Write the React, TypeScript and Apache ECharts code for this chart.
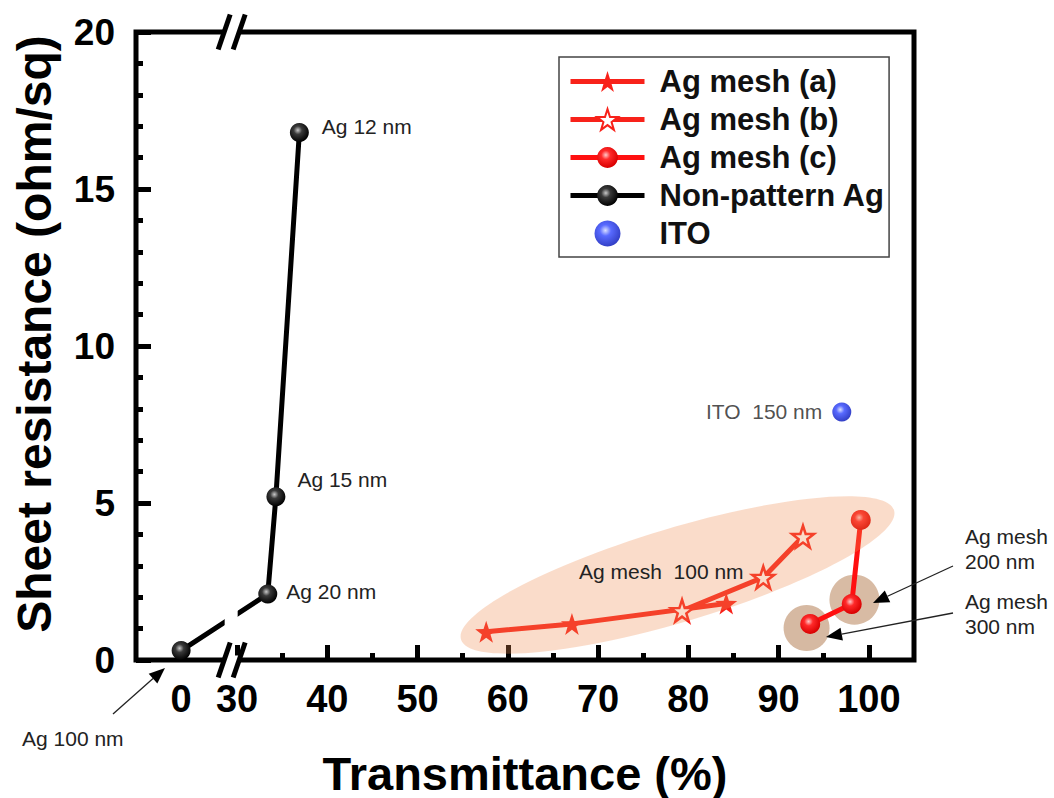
import React, { useEffect, useRef } from "react";
import * as echarts from "echarts";

const FONT = 'Arial, "Liberation Sans", Helvetica, sans-serif';

// Transmittance (%) and sheet resistance (ohm/sq) for each film
const meshA_T = [57.6, 67.1, 84.2];
const meshA_R = [0.9, 1.15, 1.8];
const meshB_T = [79.3, 88.3, 92.7];
const meshB_R = [1.57, 2.63, 3.93];
const meshC_T = [93.5, 98.1, 99.1];
const meshC_R = [1.15, 1.78, 4.46];
const plainAg_T = [0, 33.4, 34.3, 36.9];
const plainAg_R = [0.3, 2.1, 5.2, 16.8];
const plainAg_names = ["Ag 100 nm", "Ag 20 nm", "Ag 15 nm", "Ag 12 nm"];
const ito_T = [97.0];
const ito_R = [7.9];

// Axis ticks
const xLabelValues = [0, 30, 40, 50, 60, 70, 80, 90, 100];
const xMajorTicks = [30, 40, 50, 60, 70, 80, 90, 100];
const xMinorTicks = [35, 45, 55, 65, 75, 85, 95];

// Broken x axis: 0..30 is collapsed, the value 0 sits at ZERO_POS
const X_MIN = 18.8;
const X_MAX = 105;
const ZERO_POS = 23.8;
const BREAK_POS = 29.4;
const toAxis = (v: number) => (v < 30 ? ZERO_POS + v : v);
const pairs = (t: number[], r: number[]) => t.map((v, i) => [toAxis(v), r[i]]);

const RED = "#f8221a";
const STAR =
  "path://M50,0 L61.8,35.3 L98.9,35.7 L69.1,57.9 L80.2,93.3 L50,71.8 L19.8,93.3 L30.9,57.9 L1.1,35.7 L38.2,35.3 Z";

const sphere = (hi: string, mid: string, edge: string) => ({
  type: "radial",
  x: 0.42,
  y: 0.38,
  r: 0.62,
  colorStops: [
    { offset: 0, color: hi },
    { offset: 0.35, color: mid },
    { offset: 1, color: edge },
  ],
});
const blackBall = sphere("#c8c8c8", "#3a3a3a", "#000000");
const redBall = sphere("#ffc8c8", "#ff2a2a", "#d80000");
const blueBall = sphere("#d0d8ff", "#2f45ff", "#0010b8");

const NOTE_SIZE = 21;

const labelOffsets: Record<string, [number, number]> = {
  "Ag 20 nm": [9, -3],
  "Ag 15 nm": [12, -17],
  "Ag 12 nm": [13, -6],
};

export default function App() {
  const ref = useRef<HTMLDivElement>(null);

  useEffect(() => {
    const el = ref.current!;
    const chart = echarts.init(el, null, { renderer: "svg" });

    const plainData = plainAg_T.map((t, i) => {
      const name = plainAg_names[i];
      const off = labelOffsets[name];
      return {
        value: [toAxis(t), plainAg_R[i]],
        name,
        label: off
          ? {
              show: true,
              position: "right",
              distance: off[0],
              offset: [0, off[1]],
              formatter: name,
              fontFamily: FONT,
              fontSize: NOTE_SIZE,
              color: "#222",
            }
          : { show: false },
      };
    });

    const option: any = {
      animation: false,
      backgroundColor: "#ffffff",
      textStyle: { fontFamily: FONT },
      grid: {
        left: 136,
        top: 32,
        right: 140,
        bottom: 138,
        show: true,
        borderColor: "#000",
        borderWidth: 5,
        backgroundColor: "transparent",
      },
      legend: {
        orient: "vertical",
        left: 559,
        top: 57,
        padding: [9, 4, 8, 9],
        borderColor: "#444",
        borderWidth: 1.5,
        itemWidth: 74,
        itemHeight: 26,
        itemGap: 7,
        lineStyle: { width: 5 },
        textStyle: {
          fontFamily: FONT,
          fontWeight: "bold",
          fontSize: 31,
          color: "#111",
          padding: [0, 0, 0, 10],
        },
        data: ["Ag mesh (a)", "Ag mesh (b)", "Ag mesh (c)", "Non-pattern Ag", "ITO"],
      },
      xAxis: [
        {
          type: "value",
          min: X_MIN,
          max: X_MAX,
          position: "bottom",
          axisLine: { show: false },
          splitLine: { show: false },
          axisTick: {
            show: true,
            inside: true,
            length: 15,
            customValues: xMajorTicks.map(toAxis),
            lineStyle: { color: "#000", width: 5 },
          },
          axisLabel: {
            customValues: xLabelValues.map(toAxis),
            formatter: (v: number) => (Math.abs(v - ZERO_POS) < 0.01 ? "0" : String(Math.round(v))),
            fontFamily: FONT,
            fontWeight: "bold",
            fontSize: 38,
            color: "#000",
            margin: 20,
          },
        },
        {
          type: "value",
          min: X_MIN,
          max: X_MAX,
          position: "bottom",
          axisLine: { show: false },
          splitLine: { show: false },
          axisLabel: { show: false },
          axisTick: {
            show: true,
            inside: true,
            length: 7,
            customValues: xMinorTicks.map(toAxis),
            lineStyle: { color: "#000", width: 5 },
          },
        },
      ],
      yAxis: {
        type: "value",
        min: 0,
        max: 20,
        interval: 5,
        axisLine: { show: false },
        splitLine: { show: false },
        axisTick: { show: true, inside: true, length: 15, lineStyle: { color: "#000", width: 5 } },
        minorTick: { show: true, splitNumber: 5, length: 7, lineStyle: { color: "#000", width: 5 } },
        minorSplitLine: { show: false },
        axisLabel: {
          fontFamily: FONT,
          fontWeight: "bold",
          fontSize: 37,
          color: "#000",
          margin: 21,
        },
      },
      series: [
        {
          name: "Ag mesh (a)",
          type: "line",
          data: pairs(meshA_T, meshA_R),
          symbol: STAR,
          symbolSize: 22,
          itemStyle: { color: RED },
          lineStyle: { color: RED, width: 5 },
          z: 3,
        },
        {
          name: "Ag mesh (b)",
          type: "line",
          data: pairs(meshB_T, meshB_R),
          symbol: STAR,
          symbolSize: 22,
          itemStyle: { color: "#ffffff", borderColor: RED, borderWidth: 2.5 },
          lineStyle: { color: RED, width: 5 },
          z: 4,
        },
        {
          name: "Ag mesh (c)",
          type: "line",
          data: pairs(meshC_T, meshC_R),
          symbol: "circle",
          symbolSize: 20,
          itemStyle: { color: redBall },
          lineStyle: { color: "#ff1010", width: 5 },
          z: 4,
        },
        {
          name: "Non-pattern Ag",
          type: "line",
          data: plainData,
          symbol: "circle",
          symbolSize: 19,
          itemStyle: { color: blackBall },
          lineStyle: { color: "#000", width: 5 },
          z: 4,
        },
        {
          name: "ITO",
          type: "scatter",
          data: pairs(ito_T, ito_R),
          symbol: "circle",
          symbolSize: 19,
          itemStyle: { color: blueBall },
          label: {
            show: true,
            position: "left",
            distance: 10,
            formatter: "ITO  150 nm",
            fontFamily: FONT,
            fontSize: NOTE_SIZE,
            color: "#222",
          },
          z: 4,
        },
      ],
    };

    chart.setOption(option);

    const px = (t: number, r: number) =>
      chart.convertToPixel({ seriesIndex: 0 }, [toAxis(t), r]) as number[];

    const [, yBottom] = px(30, 0);
    const [, yTop] = px(30, 20);
    const [bx] = chart.convertToPixel({ seriesIndex: 0 }, [BREAK_POS, 0]) as number[];

    const graphics: any[] = [];

    // Highlight shapes grouping the mesh samples
    const [ex, ey] = px(78.8, 2.71);
    graphics.push({
      type: "ellipse",
      x: ex,
      y: ey,
      rotation: (16.6 * Math.PI) / 180,
      shape: { cx: 0, cy: 0, rx: 226, ry: 47 },
      style: { fill: "rgba(238,140,80,0.3)" },
      z: 10,
      silent: true,
    });
    const [c2x, c2y] = px(98.4, 1.92);
    graphics.push({
      type: "circle",
      shape: { cx: c2x, cy: c2y, r: 25 },
      style: { fill: "#d8bba4" },
      z: 1,
      silent: true,
    });
    const [c3x, c3y] = px(93.1, 1.02);
    graphics.push({
      type: "circle",
      shape: { cx: c3x, cy: c3y, r: 23 },
      style: { fill: "#d6b9a2" },
      z: 1,
      silent: true,
    });

    // Axis break marks "//" on the top and bottom frame lines
    const breakMark = (ya: number) => {
      const dx = 6;
      const dy = 17.5;
      const sep = 7.5;
      const h = 4.5;
      const k = dx / dy;
      graphics.push({
        type: "polygon",
        shape: {
          points: [
            [bx - sep - h * k, ya + h],
            [bx + sep - h * k, ya + h],
            [bx + sep + h * k, ya - h],
            [bx - sep + h * k, ya - h],
          ],
        },
        style: { fill: "#fff" },
        z: 20,
        silent: true,
      });
      [-sep, sep].forEach((s) => {
        graphics.push({
          type: "line",
          shape: { x1: bx + s - dx, y1: ya + dy, x2: bx + s + dx, y2: ya - dy },
          style: { stroke: "#000", lineWidth: 5 },
          z: 21,
          silent: true,
        });
      });
    };
    breakMark(yTop);
    breakMark(yBottom);
    // gap in the data line where it crosses the break
    graphics.push({
      type: "rect",
      shape: { x: bx - 7, y: yBottom - 62, width: 13, height: 44 },
      style: { fill: "#fff" },
      z: 20,
      silent: true,
    });

    // Notes and arrows
    const note = (text: string, x: number, y: number) =>
      graphics.push({
        type: "text",
        x,
        y,
        style: {
          text,
          fontFamily: FONT,
          fontSize: NOTE_SIZE,
          fill: "#222",
          lineHeight: 25,
          verticalAlign: "middle",
          align: "left",
        },
        z: 30,
        silent: true,
      });
    note("Ag mesh  100 nm", 579, 571);
    note("Ag mesh\n200 nm", 965, 549);
    note("Ag mesh\n300 nm", 965, 614);
    note("Ag 100 nm", 22, 738);

    const arrow = (x1: number, y1: number, x2: number, y2: number) => {
      const a = Math.atan2(y2 - y1, x2 - x1);
      const L = 16;
      const W = 6.5;
      const bxh = x2 - L * Math.cos(a);
      const byh = y2 - L * Math.sin(a);
      graphics.push({
        type: "line",
        shape: { x1, y1, x2: bxh, y2: byh },
        style: { stroke: "#222", lineWidth: 1.3 },
        z: 30,
        silent: true,
      });
      graphics.push({
        type: "polygon",
        shape: {
          points: [
            [x2, y2],
            [bxh + W * Math.sin(a), byh - W * Math.cos(a)],
            [bxh - W * Math.sin(a), byh + W * Math.cos(a)],
          ],
        },
        style: { fill: "#000" },
        z: 30,
        silent: true,
      });
    };
    arrow(953, 566, 873, 603);
    arrow(953, 613, 826, 637);
    arrow(113, 714, 165, 668);

    // Axis titles
    graphics.push({
      type: "text",
      x: 525,
      y: 773,
      style: {
        text: "Transmittance (%)",
        fontFamily: FONT,
        fontWeight: "bold",
        fontSize: 47,
        fill: "#000",
        align: "center",
        verticalAlign: "middle",
      },
      z: 30,
    });
    graphics.push({
      type: "text",
      x: 34,
      y: 334,
      rotation: Math.PI / 2,
      style: {
        text: "Sheet resistance (ohm/sq)",
        fontFamily: FONT,
        fontWeight: "bold",
        fontSize: 48,
        fill: "#000",
        align: "center",
        verticalAlign: "middle",
      },
      z: 30,
    });

    chart.setOption({ graphic: graphics });

    return () => chart.dispose();
  }, []);

  return (
    <div
      ref={ref}
      style={{ position: "fixed", left: 0, top: 0, width: 1054, height: 798, background: "#fff" }}
    />
  );
}
